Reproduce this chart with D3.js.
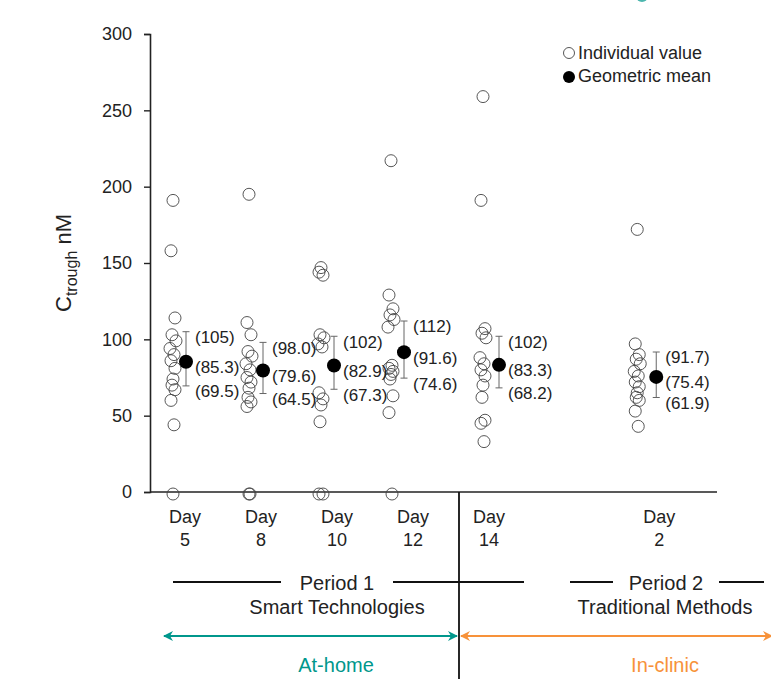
<!DOCTYPE html>
<html>
<head>
<meta charset="utf-8">
<script src="https://cdn.jsdelivr.net/npm/d3@7"></script>
<style>
  html, body { margin: 0; padding: 0; background: #fff; }
  svg { display: block; }
  text { font-family: "Liberation Sans Narrow", "Arial Narrow", "Liberation Sans", sans-serif; fill: #222; }
</style>
</head>
<body>
<svg id="chart" width="771" height="679"></svg>
<script>
// Visit days (period 1 at home, then period 2 in clinic)
const days = ["5", "8", "10", "12", "14", "2"];

// Individual Ctrough values (nM) per visit
const day5Values  = [191, 158, 114, 103, 99, 94, 90, 86, 81, 74, 70, 67, 60, 44, 0];
const day8Values  = [195, 111, 103, 92, 89, 84, 80, 75, 72, 68, 62, 59, 56, 0, 0];
const day10Values = [147, 144, 142, 103, 101, 97, 95, 65, 61, 57, 46, 0, 0];
const day12Values = [217, 129, 120, 116, 113, 108, 83, 81, 79, 77, 74, 63, 52, 0];
const day14Values = [259, 191, 107, 104, 101, 88, 84, 80, 76, 70, 62, 47, 45, 33];
const day2Values  = [172, 97, 90, 87, 84, 79, 76, 72, 69, 65, 62, 60, 53, 43];

// Geometric mean with 90% CI bounds
const geoMean = [85.3, 79.6, 82.9, 91.6, 83.3, 75.4];
const ciLower = [69.5, 64.5, 67.3, 74.6, 68.2, 61.9];
const ciUpper = [105, 98.0, 102, 112, 102, 91.7];

const yTicks = [0, 50, 100, 150, 200, 250, 300];

const individual = [day5Values, day8Values, day10Values, day12Values, day14Values, day2Values];

// ---- layout ----
const svg = d3.select("#chart");
const teal = "#00978c";
const orange = "#f7923a";

const y = d3.scaleLinear().domain([0, 300]).range([492, 34]);

// category slots: day 2 sits further right, after the period break
const slot = d3.scaleOrdinal().domain(days).range([0, 1, 2, 3, 4, 6.24]);
const xSlot = d3.scaleLinear().domain([0, 1]).range([185, 261]);
const xLabel = d => xSlot(slot(d));
// mean marker offset from the category label, and circle column offset from the mean
const meanShift = {"5": 1, "8": 2, "10": -3, "12": -9, "14": 10, "2": -3};
const circleShift = {"5": -13, "8": -14, "10": -13, "12": -13, "14": -16, "2": -19};
const xMean = d => xLabel(d) + meanShift[d];
const jitter = [0, -2, 2, -1, 3, -3, 1, -2, 2, 0, -1, 2, -2, 1, 0];

// ---- y axis ----
const yAxis = d3.axisLeft(y).tickValues(yTicks).tickSize(6).tickPadding(12);
const gy = svg.append("g").attr("transform", "translate(150,0)").call(yAxis);
gy.select(".domain").attr("stroke", "#222").attr("stroke-width", 1.6);
gy.selectAll(".tick line").attr("stroke", "#222").attr("stroke-width", 1.4);
gy.selectAll(".tick text")
  .style("font-family", '"Liberation Sans Narrow", "Arial Narrow", sans-serif')
  .attr("font-size", 18).attr("fill", "#333");

// x axis baseline
svg.append("line")
  .attr("x1", 150).attr("x2", 717).attr("y1", y(0)).attr("y2", y(0))
  .attr("stroke", "#222").attr("stroke-width", 1.6);

// y axis title
const yt = svg.append("text")
  .attr("transform", "translate(71,263) rotate(-90)")
  .attr("text-anchor", "middle")
  .attr("font-size", 22).attr("fill", "#222");
yt.append("tspan").text("C");
yt.append("tspan").attr("font-size", 16).attr("dy", 6).text("trough");
yt.append("tspan").attr("dy", -6).text(" nM");

// ---- individual values ----
days.forEach((d, i) => {
  svg.append("g").selectAll("circle")
    .data(individual[i])
    .join("circle")
    .attr("cx", (v, j) => xMean(d) + circleShift[d] + jitter[j % jitter.length])
    .attr("cy", v => y(v) + (v === 0 ? 2 : 0))
    .attr("r", 6)
    .attr("fill", "none")
    .attr("stroke", "#444")
    .attr("stroke-width", 0.9);
});

// ---- geometric means with CI ----
const fmt = d3.format(".3r");
days.forEach((d, i) => {
  const cx = xMean(d);
  const g = svg.append("g");
  g.append("line").attr("x1", cx).attr("x2", cx)
    .attr("y1", y(ciLower[i])).attr("y2", y(ciUpper[i]))
    .attr("stroke", "#666").attr("stroke-width", 1);
  [ciLower[i], ciUpper[i]].forEach(v => {
    g.append("line").attr("x1", cx - 3.5).attr("x2", cx + 3.5)
      .attr("y1", y(v)).attr("y2", y(v))
      .attr("stroke", "#666").attr("stroke-width", 1);
  });
  g.append("circle").attr("cx", cx).attr("cy", y(geoMean[i])).attr("r", 7).attr("fill", "#000");
  [ciUpper[i], geoMean[i], ciLower[i]].forEach(v => {
    g.append("text")
      .attr("x", cx + 9).attr("y", y(v) + 7)
      .attr("dominant-baseline", "middle")
      .attr("font-size", 17).attr("fill", "#333")
      .text("(" + fmt(v) + ")");
  });
});

// ---- category labels ----
days.forEach(d => {
  const t = svg.append("text").attr("text-anchor", "middle").attr("font-size", 18).attr("fill", "#222");
  t.append("tspan").attr("x", xLabel(d)).attr("y", 523).text("Day");
  t.append("tspan").attr("x", xLabel(d)).attr("y", 546).text(d);
});

// ---- period separator ----
svg.append("line").attr("x1", 459).attr("x2", 459).attr("y1", y(0)).attr("y2", 679)
  .attr("stroke", "#111").attr("stroke-width", 1.8);

// period brackets
const periodLines = [[173, 281], [393, 524], [570, 613], [719, 764]];
periodLines.forEach(([a, b]) => {
  svg.append("line").attr("x1", a).attr("x2", b).attr("y1", 582).attr("y2", 582)
    .attr("stroke", "#111").attr("stroke-width", 2);
});
svg.append("text").attr("x", 337).attr("y", 590).attr("text-anchor", "middle").attr("font-size", 20).text("Period 1");
svg.append("text").attr("x", 337).attr("y", 614).attr("text-anchor", "middle").attr("font-size", 20).text("Smart Technologies");
svg.append("text").attr("x", 666).attr("y", 590).attr("text-anchor", "middle").attr("font-size", 20).text("Period 2");
svg.append("text").attr("x", 665).attr("y", 614).attr("text-anchor", "middle").attr("font-size", 20).text("Traditional Methods");

// setting arrows
const defs = svg.append("defs");
[["tealHead", teal], ["orangeHead", orange]].forEach(([id, c]) => {
  defs.append("marker").attr("id", id).attr("viewBox", "0 0 10 10")
    .attr("refX", 9).attr("refY", 5).attr("markerWidth", 5).attr("markerHeight", 5)
    .attr("orient", "auto-start-reverse")
    .append("path").attr("d", "M0,0 L10,5 L0,10 L3,5 Z").attr("fill", c);
});
svg.append("line").attr("x1", 164).attr("x2", 457).attr("y1", 636).attr("y2", 636)
  .attr("stroke", teal).attr("stroke-width", 2)
  .attr("marker-start", "url(#tealHead)").attr("marker-end", "url(#tealHead)");
svg.append("line").attr("x1", 461).attr("x2", 772).attr("y1", 636).attr("y2", 636)
  .attr("stroke", orange).attr("stroke-width", 2)
  .attr("marker-start", "url(#orangeHead)").attr("marker-end", "url(#orangeHead)");
svg.append("text").attr("x", 336).attr("y", 672).attr("text-anchor", "middle").attr("font-size", 20)
  .attr("fill", teal).style("fill", teal).text("At-home");
svg.append("text").attr("x", 665).attr("y", 672).attr("text-anchor", "middle").attr("font-size", 20)
  .attr("fill", orange).style("fill", orange).text("In-clinic");

// ---- legend ----
svg.append("circle").attr("cx", 569).attr("cy", 53).attr("r", 5.5).attr("fill", "none").attr("stroke", "#444").attr("stroke-width", 0.9);
svg.append("text").attr("x", 578).attr("y", 59).attr("font-size", 18).text("Individual value");
svg.append("circle").attr("cx", 569).attr("cy", 77).attr("r", 6).attr("fill", "#000");
svg.append("text").attr("x", 578).attr("y", 82).attr("font-size", 18).text("Geometric mean");

// clipped teal mark at the top edge
svg.append("circle").attr("cx", 642).attr("cy", -4).attr("r", 6).attr("fill", teal).attr("opacity", 0.7);
</script>
</body>
</html>
